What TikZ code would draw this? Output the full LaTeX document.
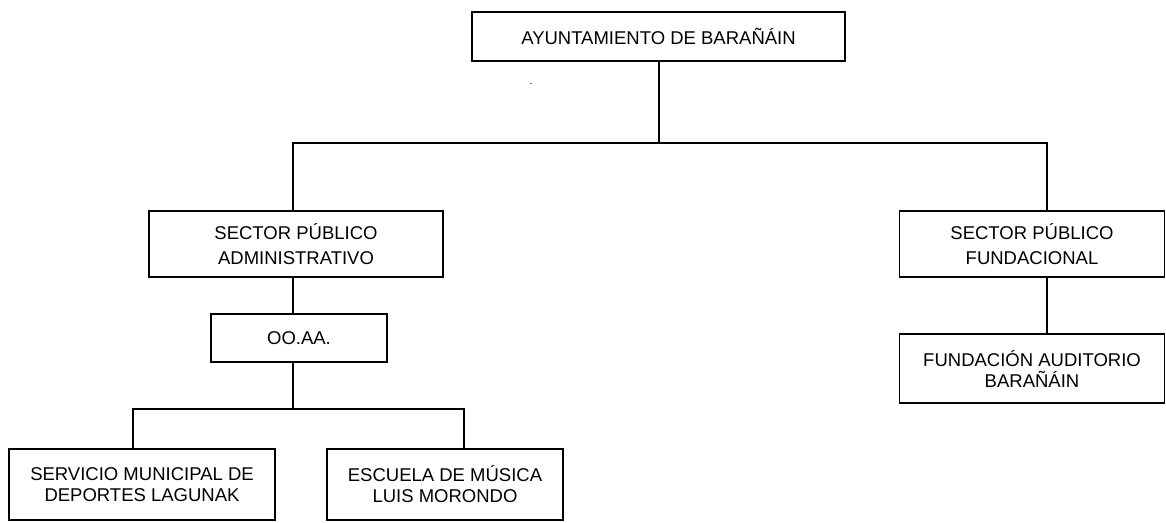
\documentclass[tikz,border=0pt]{standalone}
\usepackage{fontspec}
\setmainfont{Liberation Sans}
\usetikzlibrary{positioning}

\begin{document}
\begin{tikzpicture}[x=1pt,y=-1pt,line width=1.5pt]
       \tikzstyle{box}=[draw,align=center,inner sep=0pt,font=\fontsize{18.5}{25}\selectfont]
       \tikzstyle{lowbox}=[box,font=\fontsize{18.5}{21}\selectfont]

       \useasboundingbox (0,0) rectangle (1166,522);

       \node[box, minimum width=373pt, minimum height=49pt] (ayto) at (658.5,36.5) {AYUNTAMIENTO DE BARAÑÁIN};
       \node[font=\fontsize{10}{10}\selectfont, inner sep=0pt] (dot) at (531,84) {.};

       \node[box, minimum width=294pt, minimum height=66pt] (spa) at (296,244) {SECTOR PÚBLICO\\ADMINISTRATIVO};
       \node[box, minimum width=265pt, minimum height=66pt] (spf) at (1032,244) {SECTOR PÚBLICO\\FUNDACIONAL};
       \node[box, minimum width=176pt, minimum height=48pt] (ooaa) at (299,338) {OO.AA.};
       \node[lowbox, minimum width=265pt, minimum height=69pt] (fund) at (1032,368.5) {FUNDACIÓN AUDITORIO\\BARAÑÁIN};
       \node[lowbox, minimum width=266pt, minimum height=71pt] (smd) at (142,484.5) {SERVICIO MUNICIPAL DE\\DEPORTES LAGUNAK};
       \node[lowbox, minimum width=236pt, minimum height=71pt] (esc) at (445,484.5) {ESCUELA DE MÚSICA\\LUIS MORONDO};

       \coordinate (top_bus) at (659,143);
       \coordinate (spf_in) at (1047,143);
       \coordinate (spa_in) at (293,143);
       \coordinate (oo_bus) at (293,409);
       \coordinate (smd_in) at (133,409);
       \coordinate (esc_in) at (464,409);

       \draw (ayto.south -| top_bus) -- (top_bus);
       \draw (spa_in |- spa.north) -- (spa_in) -- (spf_in) -- (spf_in |- spf.north);
       \draw (spf_in |- spf.south) -- (spf_in |- fund.north);
       \draw (spa_in |- spa.south) -- (spa_in |- ooaa.north);
       \draw (oo_bus |- ooaa.south) -- (oo_bus);
       \draw (smd_in |- smd.north) -- (smd_in) -- (esc_in) -- (esc_in |- esc.north);
     \end{tikzpicture}
\end{document}
